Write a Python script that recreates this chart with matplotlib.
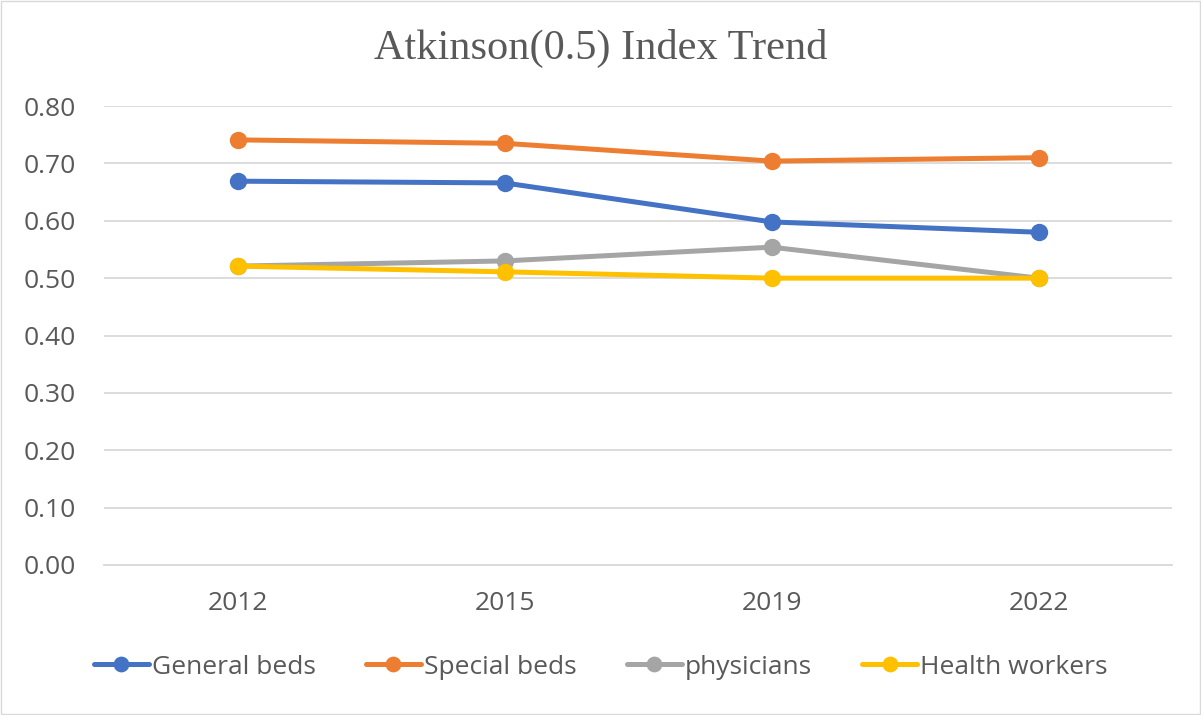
import matplotlib.pyplot as plt
from matplotlib.patches import Rectangle

years = ['2012', '2015', '2019', '2022']
general_beds = [0.669, 0.666, 0.598, 0.580]
special_beds = [0.741, 0.735, 0.704, 0.710]
physicians = [0.521, 0.530, 0.554, 0.500]
health_workers = [0.521, 0.511, 0.500, 0.500]

series = [
    ('General beds', general_beds, '#4472C4'),
    ('Special beds', special_beds, '#ED7D31'),
    ('physicians', physicians, '#A5A5A5'),
    ('Health workers', health_workers, '#FFC000'),
]

plt.rcParams['font.family'] = ['Open Sans', 'DejaVu Sans']

fig = plt.figure(figsize=(12.01, 7.15), dpi=100)
ax = fig.add_axes([0.0866, 0.2098, 0.8894, 0.6419])

x = range(len(years))
for name, vals, col in series:
    ax.plot(x, vals, color=col, lw=3.6, marker='o', ms=11.5, label=name,
            solid_capstyle='round')

ax.set_xlim(-0.5, len(years) - 0.5)
ax.set_ylim(0, 0.8)
ax.set_yticks([i / 10 for i in range(9)])
ax.set_yticklabels([f'{i / 10:.2f}' for i in range(9)])
ax.set_xticks(list(x))
ax.set_xticklabels(years)
ax.grid(axis='y', color='#D9D9D9', lw=1.3)
ax.set_axisbelow(True)
for s in ['top', 'right', 'left']:
    ax.spines[s].set_visible(False)
ax.spines['bottom'].set_color('#D9D9D9')
ax.spines['bottom'].set_linewidth(1.3)
ax.tick_params(length=0, labelsize=19, colors='#595959')
ax.tick_params(axis='x', pad=19)
ax.tick_params(axis='y', pad=20)

fig.suptitle('Atkinson(0.5) Index Trend', y=1 - 48 / 715, va='center', fontsize=30.5,
             family='Liberation Serif', color='#595959')

ax.legend(loc='center', bbox_to_anchor=(0.5, 1 - 667 / 715), bbox_transform=fig.transFigure,
          ncol=4, frameon=False, fontsize=19, labelcolor='#595959',
          handlelength=2.1, handletextpad=0.1, columnspacing=1.9, markerscale=0.9)

fig.patches.append(Rectangle((0.001, 0.001), 0.998, 0.998, transform=fig.transFigure,
                             fill=False, edgecolor='#D9D9D9', lw=1))

fig.savefig('out.png', dpi=100)
